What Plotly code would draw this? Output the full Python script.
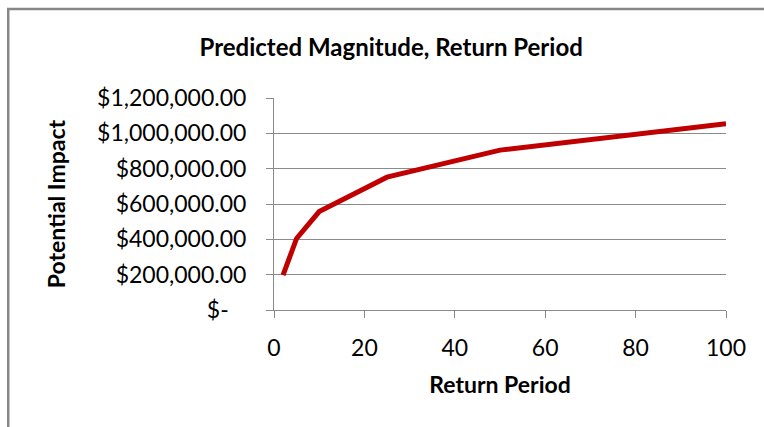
import plotly.graph_objects as go

# Data
return_period = [2, 5, 10, 25, 50, 100]
potential_impact = [198000, 405000, 557000, 752000, 905000, 1055000]

y_tick_vals = [0, 200000, 400000, 600000, 800000, 1000000, 1200000]
y_tick_text = ["$-\u00a0\u00a0\u00a0", "$200,000.00", "$400,000.00", "$600,000.00",
               "$800,000.00", "$1,000,000.00", "$1,200,000.00"]
x_tick_vals = [0, 20, 40, 60, 80, 100]

title_text = "<b>Predicted Magnitude, Return Period</b>"
x_title = "<b>Return Period</b>"
y_title = "<b>Potential Impact</b>"

FONT = "Lato, 'Open Sans', sans-serif"
GRID = "#8a8a8a"

fig = go.Figure()
fig.add_trace(go.Scatter(
    x=return_period, y=potential_impact, mode="lines",
    line=dict(color="#C00000", width=5), hoverinfo="x+y", showlegend=False,
))

fig.update_layout(
    width=764, height=427,
    margin=dict(l=274, r=38, t=98, b=117),
    paper_bgcolor="white", plot_bgcolor="white",
    font=dict(family=FONT, color="black", size=23),
    title=dict(text=title_text, x=0.512, xanchor="center", y=0.888, yanchor="middle",
               font=dict(size=24, family=FONT, color="black")),
    xaxis=dict(
        range=[0, 100], tickvals=x_tick_vals, showgrid=False,
        showline=True, linecolor=GRID, linewidth=1,
        ticks="outside", ticklen=7, tickcolor=GRID, tickwidth=1,
        tickfont=dict(size=23, family=FONT), ticklabelstandoff=10,
        title=dict(text=x_title, font=dict(size=23, family=FONT), standoff=17),
        zeroline=False, fixedrange=True,
    ),
    yaxis=dict(
        range=[0, 1200000], tickvals=y_tick_vals, ticktext=y_tick_text,
        showgrid=True, gridcolor=GRID, gridwidth=1,
        showline=True, linecolor=GRID, linewidth=1,
        ticks="outside", ticklen=7, tickcolor=GRID, tickwidth=1,
        tickfont=dict(size=23, family=FONT), ticklabelstandoff=15,
        title=dict(text=y_title, font=dict(size=23, family=FONT), standoff=25),
        zeroline=False, fixedrange=True,
    ),
    shapes=[dict(
        type="rect", xref="paper", yref="paper",
        x0=-0.588, x1=1.12, y0=-0.6, y1=1.42,
        line=dict(color="#878787", width=2.5), fillcolor="rgba(0,0,0,0)", layer="below",
    )],
)

fig.write_html(
    "out.html",
    config={"displayModeBar": False},
    post_script="document.body.style.margin='0';document.body.style.overflow='hidden';",
)
